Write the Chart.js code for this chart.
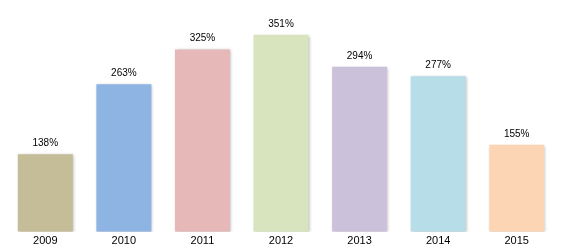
<!DOCTYPE html>
<html><head><meta charset="utf-8">
<script src="https://cdn.jsdelivr.net/npm/chart.js@4"></script>
<style>html,body{margin:0;padding:0;background:#fff}#w{width:565px;height:252px}</style>
</head><body><div id="w"><canvas id="c"></canvas></div>
<script>
const categories = ['2009','2010','2011','2012','2013','2014','2015'];
const values = [138, 263, 325, 351, 294, 277, 155];
const barColors = ['#C4BD97','#8EB4E3','#E6B9B8','#D7E4BD','#CCC1DA','#B7DEE8','#FCD5B5'];

const shadowPlugin = {
  id: 'shadow',
  beforeDatasetsDraw(chart) {
    const ctx = chart.ctx; ctx.save();
    ctx.shadowColor = 'rgba(0,0,0,0.28)'; ctx.shadowBlur = 3; ctx.shadowOffsetX = 1; ctx.shadowOffsetY = 1;
  },
  afterDatasetsDraw(chart) { chart.ctx.restore(); }
};
const labelPlugin = {
  id: 'vlabels',
  afterDatasetsDraw(chart) {
    const ctx = chart.ctx; ctx.save();
    ctx.font = '10px "Liberation Sans", Arial, sans-serif';
    ctx.fillStyle = '#000'; ctx.textAlign = 'center'; ctx.textBaseline = 'bottom';
    chart.getDatasetMeta(0).data.forEach((bar, i) => {
      ctx.fillText(values[i] + '%', bar.x, bar.y - 6);
    });
    ctx.restore();
  }
};
new Chart(document.getElementById('c'), {
  type: 'bar',
  data: { labels: categories, datasets: [{ data: values, backgroundColor: barColors, borderWidth: 0, categoryPercentage: 1, barPercentage: 0.7 }] },
  options: {
    responsive: true, maintainAspectRatio: false, animation: false,
    layout: { padding: { left: 6, right: 9, top: 0, bottom: 1 } },
    plugins: { legend: { display: false }, tooltip: { enabled: false } },
    scales: {
      x: { grid: { display: false, drawTicks: false }, border: { display: false }, ticks: { color: '#000', padding: 3, font: { family: '"Liberation Sans", Arial, sans-serif', size: 11 } } },
      y: { display: false, min: 0, max: 413 }
    }
  },
  plugins: [shadowPlugin, labelPlugin]
});
</script></body></html>
